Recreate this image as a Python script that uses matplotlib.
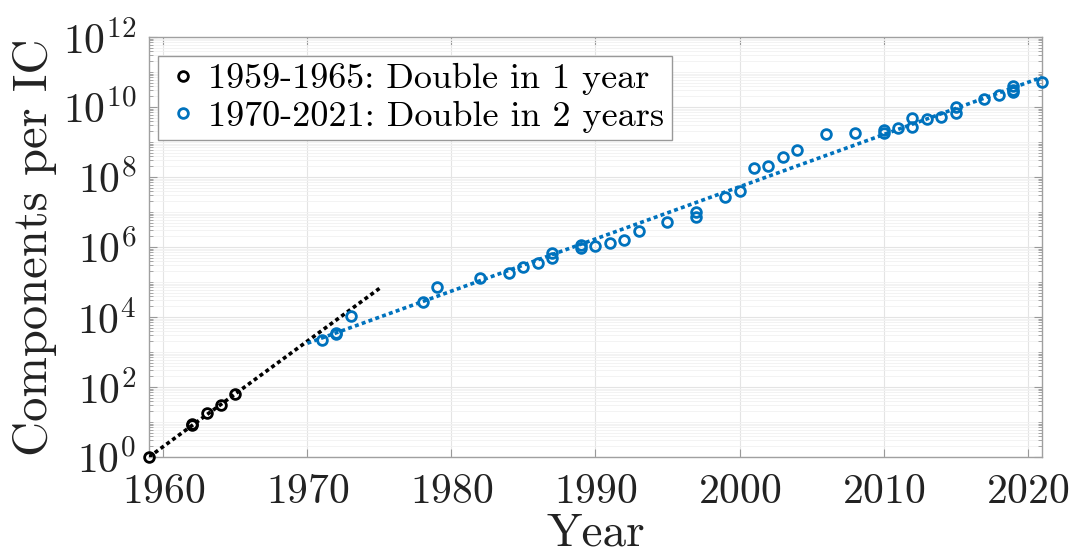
import numpy as np
import matplotlib
matplotlib.use("Agg")
import matplotlib.pyplot as plt
from matplotlib.ticker import LogLocator, NullFormatter, FixedLocator

# Moore's original points (1959-1965)
early_years = [1959, 1962, 1962, 1963, 1964, 1965]
early_comp = [1, 8, 8.5, 18, 30, 64]

# later ICs (1970-2021)
late_years = [1971, 1972, 1972, 1973, 1978, 1979, 1982, 1984, 1985, 1986, 1987, 1987,
              1989, 1989, 1990, 1991, 1992, 1993, 1995, 1997, 1997, 1999, 2000, 2001,
              2002, 2003, 2004, 2006, 2008, 2010, 2010, 2011, 2012, 2012, 2013, 2014,
              2015, 2015, 2017, 2018, 2019, 2019, 2019, 2021]
late_comp = [2.2e3, 3.3e3, 3.6e3, 1.07e4, 2.7e4, 7e4, 1.3e5, 1.8e5, 2.6e5, 3.4e5, 6.9e5, 4.8e5,
             1.15e6, 0.93e6, 1.1e6, 1.3e6, 1.6e6, 2.9e6, 5.3e6, 1.0e7, 7e6, 2.6e7, 4.1e7, 1.8e8,
             2.0e8, 3.8e8, 5.9e8, 1.66e9, 1.8e9, 2.2e9, 1.8e9, 2.5e9, 4.8e9, 2.7e9, 4.4e9, 5.1e9,
             9.8e9, 6.6e9, 1.66e10, 2.2e10, 4e10, 3.1e10, 2.6e10, 5.3e10]

# trend lines (endpoints)
early_fit_years = [1959, 1975]
early_fit_comp = [1, 2.0**16]
late_fit_years = [1970, 2021]
late_fit_comp = [10**3.25, 10**10.85]

blue = "#0072BD"

plt.rcParams["font.family"] = "cmr10"
plt.rcParams["mathtext.fontset"] = "cm"
plt.rcParams["axes.formatter.use_mathtext"] = True

fig = plt.figure(figsize=(10.71, 5.58), dpi=100)
ax = fig.add_axes([0.1391, 0.181, 0.8338, 0.7527])

ax.plot(early_fit_years, early_fit_comp, color="black", linewidth=2.6,
        dashes=(1.1, 0.9), dash_capstyle="butt", zorder=3)
ax.plot(late_fit_years, late_fit_comp, color=blue, linewidth=2.6,
        dashes=(1.1, 0.9), dash_capstyle="butt", zorder=3)
ax.plot(early_years, early_comp, "o", markerfacecolor="none", markeredgecolor="black",
        markersize=7, markeredgewidth=2, label="1959-1965: Double in 1 year",
        zorder=4, clip_on=False)
ax.plot(late_years, late_comp, "o", markerfacecolor="none", markeredgecolor=blue,
        markersize=7, markeredgewidth=2, label="1970-2021: Double in 2 years",
        zorder=4, clip_on=False)

ax.set_yscale("log")
ax.set_xlim(1959, 2021)
ax.set_ylim(1, 1e12)
ax.set_xticks([1960, 1970, 1980, 1990, 2000, 2010, 2020])
ax.yaxis.set_major_locator(FixedLocator([10.0**k for k in range(0, 13, 2)]))
ax.yaxis.set_minor_locator(LogLocator(base=10, subs=np.arange(1, 10), numticks=100))
ax.yaxis.set_minor_formatter(NullFormatter())

ax.tick_params(axis="both", which="both", direction="in", top=True, right=True,
               colors="#999999", labelcolor="#222222", labelsize=30)
ax.tick_params(axis="both", which="major", length=6)
ax.tick_params(axis="x", which="major", pad=12)
ax.tick_params(axis="y", which="major", pad=9)
ax.tick_params(axis="y", which="minor", length=3)

ax.grid(True, which="major", color="#e4e4e4", linewidth=0.8)
ax.grid(True, which="minor", axis="y", color="#f1f1f1", linewidth=0.6)
ax.set_axisbelow(True)
for s in ax.spines.values():
    s.set_color("#a0a0a0")
    s.set_linewidth(1.0)

ax.set_xlabel("Year", fontsize=34, color="#222222", labelpad=1)
ax.set_ylabel("Components per IC", fontsize=35, color="#222222", labelpad=4)

leg = ax.legend(loc="upper left", fontsize=26, frameon=True, fancybox=False,
                edgecolor="#999999", framealpha=1, handletextpad=0.2,
                borderpad=0.2, handlelength=1.0, labelspacing=0.15,
                borderaxespad=0, bbox_to_anchor=(0.01, 0.955))
leg.get_frame().set_linewidth(1.0)

plt.savefig("out.png", dpi=100)
